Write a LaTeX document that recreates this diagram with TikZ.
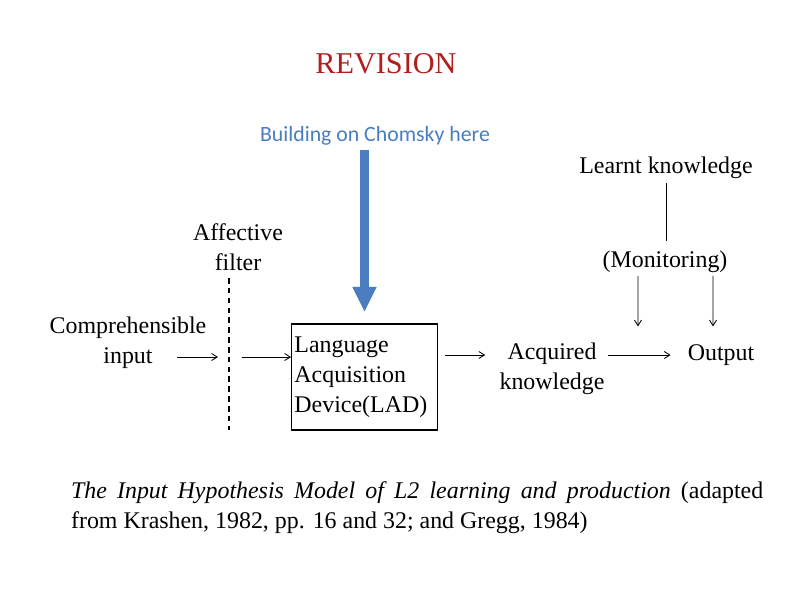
\documentclass[tikz,border=0pt]{standalone}
\usepackage{fontspec}
\setmainfont{Liberation Serif}
\newfontfamily\calibrifont{Carlito}
\usepackage{tikz}
\usetikzlibrary{arrows.meta}
\usepackage{xcolor}
\definecolor{revred}{HTML}{B01E1E}
\definecolor{noteblue}{HTML}{4A7EC0}

\begin{document}
\begin{tikzpicture}[
  x=0.025cm, y=-0.025cm,
  lbl/.style={font=\fontsize{17}{21.3}\selectfont, align=center, inner sep=2pt},
  flow/.style={-{Straight Barb[length=4pt, width=5pt]}, line width=0.6pt, black},
  filterline/.style={dashed, line width=0.8pt, dash pattern=on 4pt off 3pt}
]
  \useasboundingbox[fill=white] (0,0) rectangle (800,600);

  \node[font=\fontsize{21.5}{24}\selectfont, text=revred] (title) at (386,64) {REVISION};
  \node[font=\calibrifont\fontsize{15.5}{18}\selectfont, text=noteblue] (chomsky) at (375,136) {Building on Chomsky here};

  \node[lbl] (input) at (128,343) {Comprehensible\\input};
  \node[lbl] (filter) at (238,247) {Affective\\filter};
  \node[lbl, draw, line width=0.9pt, align=left, inner xsep=2pt, text width=3.5cm,
    minimum height=2.65cm] (lad) at (364.5,377)
    {Language\\Acquisition\\Device(LAD)\\[-3pt]};
  \node[lbl] (acq) at (552,369) {Acquired\\knowledge};
  \node[lbl] (out) at (721,355) {Output};
  \node[lbl] (learnt) at (666,168) {Learnt knowledge};
  \node[lbl] (mon) at (665,262) {(Monitoring)};

  \coordinate (ftop) at (229,278);
  \coordinate (fbot) at (229,430);
  \coordinate (fin) at (218,357);
  \coordinate (fout) at (242,357);

  \draw[filterline] (ftop) -- (fbot);
  \draw[flow] ([xshift=-0.8cm]input.east |- fin) -- (fin);
  \draw[flow] (fout) -- (lad.west |- fout);
  \draw[flow, shorten <=5pt, shorten >=8pt] (lad.east |- out) -- (acq.west |- out);
  \draw[flow, shorten >=10pt] (acq.east |- out) -- (out.west);
  \draw[line width=0.6pt, shorten <=1pt, shorten >=5pt] (learnt.south) -- (learnt.south |- mon.north);
  \draw[flow] ([xshift=-0.675cm]mon.south) -- ([xshift=-2.075cm, yshift=0.375cm]out.north);
  \draw[flow] ([xshift=1.2cm]mon.south) -- ([xshift=-0.2cm, yshift=0.375cm]out.north);

  \draw[-{Triangle[length=18pt, width=16pt]}, line width=5.7pt, noteblue,
    shorten >=8pt] (chomsky.south -| lad.north) -- (lad.north);

  \node[lbl, align=justify, text width=17.3cm, anchor=west] (caption) at (68,508)
    {\itshape The Input Hypothesis Model of L2 learning and production\upshape{} (adapted\linebreak from Krashen, 1982, pp. 16 and 32; and Gregg, 1984)};
\end{tikzpicture}
\end{document}
